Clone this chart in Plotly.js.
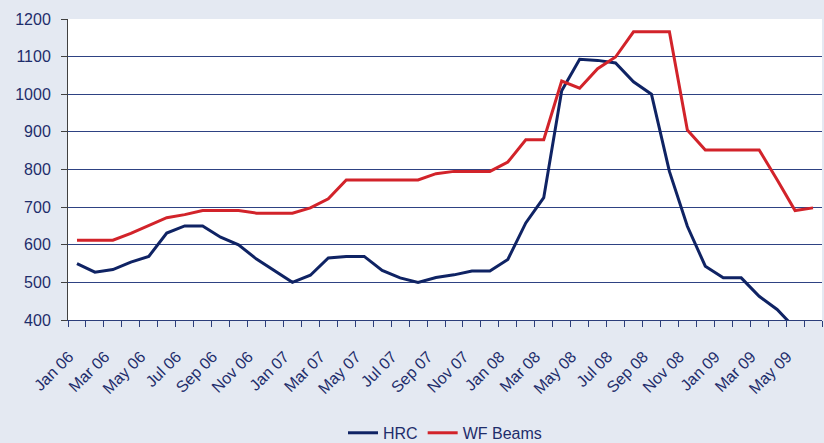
<!DOCTYPE html>
<html>
<head>
<meta charset="utf-8">
<script src="https://cdn.plot.ly/plotly-3.0.1.min.js"></script>
<style>
  html, body { margin: 0; padding: 0; background: #E4E9F2; }
  #chart { width: 824px; height: 443px; }
</style>
</head>
<body>
<div id="chart"></div>
<script>
// Monthly months Jan 06 .. Jun 09
const months = [
  "Jan 06","Feb 06","Mar 06","Apr 06","May 06","Jun 06","Jul 06","Aug 06","Sep 06","Oct 06","Nov 06","Dec 06",
  "Jan 07","Feb 07","Mar 07","Apr 07","May 07","Jun 07","Jul 07","Aug 07","Sep 07","Oct 07","Nov 07","Dec 07",
  "Jan 08","Feb 08","Mar 08","Apr 08","May 08","Jun 08","Jul 08","Aug 08","Sep 08","Oct 08","Nov 08","Dec 08",
  "Jan 09","Feb 09","Mar 09","Apr 09","May 09","Jun 09"
];
const hrc = [
  550, 527, 534, 554, 569, 631, 650, 650, 620, 600, 562, 532,
  500, 519, 565, 569, 569, 532, 512, 500, 513, 520, 530, 530,
  561, 658, 725, 1009, 1093, 1090, 1083, 1033, 1000, 795, 649, 543,
  512, 512, 463, 428, 378, null
];
const wfBeams = [
  612, 612, 612, 630, 650, 672, 680, 691, 691, 691, 684, 684,
  684, 698, 722, 772, 772, 772, 772, 772, 789, 795, 795, 795,
  820, 879, 879, 1035, 1016, 1068, 1099, 1166, 1166, 1166, 905, 852,
  852, 852, 852, 773, 691, 698
];
const tickLabels = ["Jan 06","Mar 06","May 06","Jul 06","Sep 06","Nov 06","Jan 07","Mar 07","May 07","Jul 07","Sep 07","Nov 07","Jan 08","Mar 08","May 08","Jul 08","Sep 08","Nov 08","Jan 09","Mar 09","May 09"];
const seriesNames = ["HRC", "WF Beams"];

const idx = months.map((m, i) => i);
const tickVals = tickLabels.map(t => months.indexOf(t));

const textColor = "#1E2D6B";
const font = { family: "Liberation Sans, Arial, sans-serif", size: 16, color: textColor };

const traces = [
  { x: idx, y: hrc, name: seriesNames[0], type: "scatter", mode: "lines",
    line: { color: "#0F2364", width: 3 }, connectgaps: false },
  { x: idx, y: wfBeams, name: seriesNames[1], type: "scatter", mode: "lines",
    line: { color: "#D2232A", width: 3 } }
];

const layout = {
  width: 824, height: 443,
  paper_bgcolor: "#E4E9F2",
  plot_bgcolor: "#FFFFFF",
  font: font,
  margin: { l: 68, r: 2, t: 19, b: 123, pad: 0, autoexpand: false },
  showlegend: true,
  legend: {
    orientation: "h", x: 0.5, xanchor: "center", y: -0.375, yanchor: "middle",
    bgcolor: "rgba(0,0,0,0)", font: font, itemwidth: 30, tracegroupgap: 0
  },
  xaxis: {
    range: [-0.5, months.length - 0.5],
    tickmode: "array", tickvals: tickVals, ticktext: tickLabels,
    tickangle: -45, ticks: "", ticklen: 0,
    ticklabelstandoff: 20, ticklabelshift: -8,
    showgrid: false, zeroline: false, automargin: false,
    showline: true, linecolor: "#2B3D7A", linewidth: 1,
    tickfont: font,
    minor: { tickmode: "linear", tick0: -0.5, dtick: 1, ticks: "outside", ticklen: 6, tickcolor: "#2B3D7A", tickwidth: 1, showgrid: false },
    fixedrange: true
  },
  yaxis: {
    range: [400, 1200],
    tickmode: "linear", tick0: 400, dtick: 100,
    ticks: "outside", ticklen: 6, tickcolor: "#404040",
    ticklabelstandoff: 7, automargin: false,
    showgrid: true, gridcolor: "#2E4283", gridwidth: 1,
    zeroline: false,
    showline: true, linecolor: "#404040", linewidth: 1,
    tickfont: font,
    fixedrange: true
  }
};

Plotly.newPlot("chart", traces, layout, { displayModeBar: false, staticPlot: true });
</script>
</body>
</html>
